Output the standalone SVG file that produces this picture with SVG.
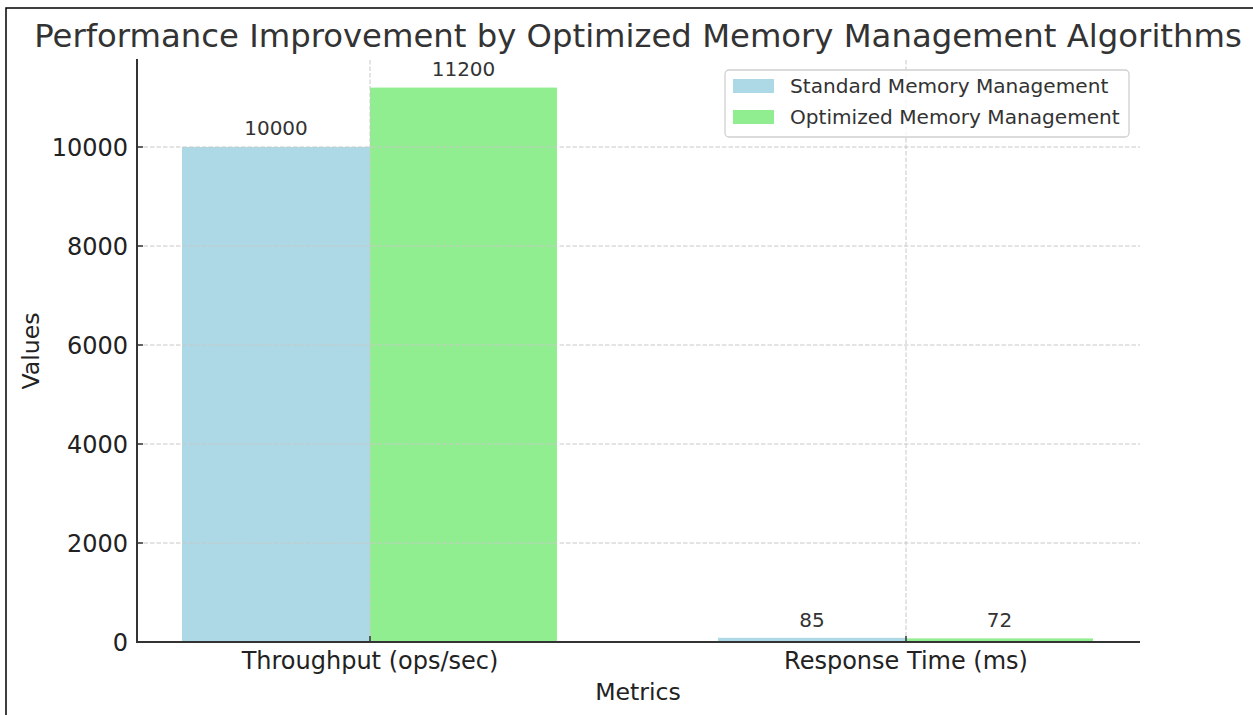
<svg xmlns="http://www.w3.org/2000/svg" width="1253" height="715" viewBox="0 0 1253 715">
<style>
text{font-family:"DejaVu Sans","Liberation Sans",sans-serif;}
.title{font-size:32.3px;fill:#333;}
.tick{font-size:24px;fill:#222;}
.axlab{font-size:23.6px;fill:#222;}
.val{font-size:20px;fill:#333;text-anchor:middle;}
.leg{font-size:20.1px;fill:#333;}
.grid{stroke:#c8c8c8;stroke-width:1;stroke-dasharray:4.5 2;fill:none;}
.spine{stroke:#333;stroke-width:2;fill:none;}
.tk{stroke:#333;stroke-width:1.5;}
.std{fill:#ADD8E6;}
.opt{fill:#90EE90;}
</style>
<rect x="0" y="0" width="1253" height="715" fill="#fff"/>
<rect x="6" y="8" width="1260" height="720" fill="none" stroke="#000" stroke-width="1.5"/>
<text class="title" x="638" y="47" text-anchor="middle">Performance Improvement by Optimized Memory Management Algorithms</text>
<g id="bars">
<g id="bar-std-throughput"><rect class="std" x="182" y="147" width="188" height="495"/><text class="val" x="276" y="135">10000</text></g>
<g id="bar-opt-throughput"><rect class="opt" x="370" y="87.6" width="187" height="554.4"/><text class="val" x="463.5" y="76">11200</text></g>
<g id="bar-std-response"><rect class="std" x="718" y="637.8" width="188" height="4.2"/><text class="val" x="812" y="627">85</text></g>
<g id="bar-opt-response"><rect class="opt" x="906" y="638.4" width="187" height="3.6"/><text class="val" x="999.5" y="627">72</text></g>
</g>
<g id="grid">
<line class="grid" x1="137" y1="543" x2="1140" y2="543"/>
<line class="grid" x1="137" y1="444" x2="1140" y2="444"/>
<line class="grid" x1="137" y1="345" x2="1140" y2="345"/>
<line class="grid" x1="137" y1="246" x2="1140" y2="246"/>
<line class="grid" x1="137" y1="147" x2="1140" y2="147"/>
<line class="grid" x1="370" y1="60" x2="370" y2="642"/>
<line class="grid" x1="906" y1="60" x2="906" y2="642"/>
</g>
<g id="axes">
<line class="spine" x1="137" y1="59" x2="137" y2="643"/>
<line class="spine" x1="136" y1="642" x2="1140" y2="642"/>
<line class="tk" x1="137" y1="642" x2="143" y2="642"/>
<line class="tk" x1="137" y1="543" x2="143" y2="543"/>
<line class="tk" x1="137" y1="444" x2="143" y2="444"/>
<line class="tk" x1="137" y1="345" x2="143" y2="345"/>
<line class="tk" x1="137" y1="246" x2="143" y2="246"/>
<line class="tk" x1="137" y1="147" x2="143" y2="147"/>
<line class="tk" x1="370" y1="642" x2="370" y2="636"/>
<line class="tk" x1="906" y1="642" x2="906" y2="636"/>
<g text-anchor="end">
<text class="tick" x="128" y="650.8">0</text>
<text class="tick" x="128" y="551.8">2000</text>
<text class="tick" x="128" y="452.8">4000</text>
<text class="tick" x="128" y="353.8">6000</text>
<text class="tick" x="128" y="254.8">8000</text>
<text class="tick" x="128" y="155.8">10000</text>
</g>
<text class="tick" x="370" y="668.5" text-anchor="middle">Throughput (ops/sec)</text>
<text class="tick" x="906" y="668.5" text-anchor="middle">Response Time (ms)</text>
<text class="axlab" x="638" y="700" text-anchor="middle">Metrics</text>
<text class="axlab" transform="translate(39 351) rotate(-90)" text-anchor="middle">Values</text>
</g>
<g id="legend">
<rect x="725" y="70" width="404" height="67" rx="4" fill="#fff" fill-opacity="0.8" stroke="#d0d0d0" stroke-width="1.3"/>
<rect class="std" x="733" y="79" width="41" height="14"/>
<text class="leg" x="790" y="93">Standard Memory Management</text>
<rect class="opt" x="733" y="110" width="41" height="14"/>
<text class="leg" x="790" y="124">Optimized Memory Management</text>
</g>
</svg>
